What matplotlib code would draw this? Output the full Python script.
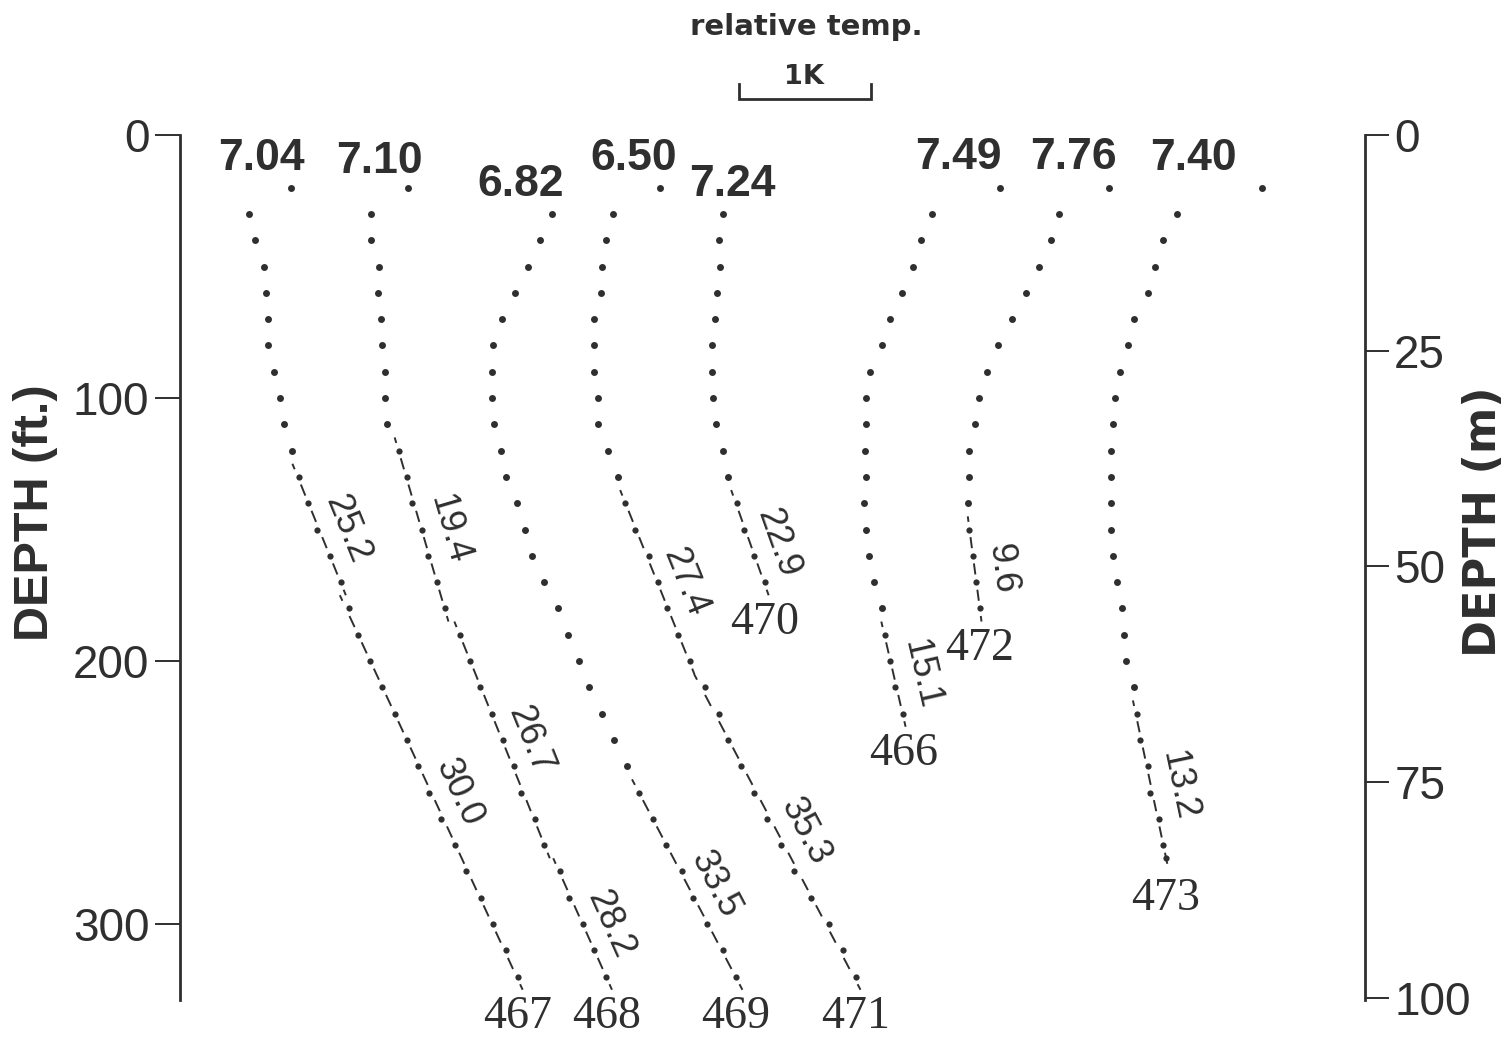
import numpy as np
import matplotlib
matplotlib.use("Agg")
import matplotlib.pyplot as plt
from matplotlib import font_manager
from matplotlib.transforms import blended_transform_factory

plt.rcParams['lines.scale_dashes'] = False

# ---------------- data ----------------
WELLS = ["467", "468", "469", "471", "470", "466", "472", "473"]
TOP_TEMPS = ["7.04", "7.10", "6.82", "6.50", "7.24", "7.49", "7.76", "7.40"]

# depth of readings (ft)
depth_467 = [20, 30, 40, 50, 60, 70, 80, 90, 100, 110, 120, 130, 140, 150, 160, 170,
             180, 190, 200, 210, 220, 230, 240, 250, 260, 270, 280, 290, 300, 310, 320]
depth_468 = [20, 30, 40, 50, 60, 70, 80, 90, 100, 110, 120, 130, 140, 150, 160, 170,
             180, 190, 200, 210, 220, 230, 240, 250, 260, 270, 280, 290, 300, 310, 320]
depth_469 = [30, 40, 50, 60, 70, 80, 90, 100, 110, 120, 130, 140, 150, 160, 170,
             180, 190, 200, 210, 220, 230, 240, 250, 260, 270, 280, 290, 300, 310, 320]
depth_471 = [20, 30, 40, 50, 60, 70, 80, 90, 100, 110, 120, 130, 140, 150, 160, 170,
             180, 190, 200, 210, 220, 230, 240, 250, 260, 270, 280, 290, 300, 310, 320]
depth_470 = [30, 40, 50, 60, 70, 80, 90, 100, 110, 120, 130, 140, 150, 160, 170]
depth_466 = [20, 30, 40, 50, 60, 70, 80, 90, 100, 110, 120, 130, 140, 150, 160, 170,
             180, 190, 200, 210, 220]
depth_472 = [20, 30, 40, 50, 60, 70, 80, 90, 100, 110, 120, 130, 140, 150, 160, 170, 180]
depth_473 = [20, 30, 40, 50, 60, 70, 80, 90, 100, 110, 120, 130, 140, 150, 160, 170,
             180, 190, 200, 210, 220, 230, 240, 250, 260, 270, 275]

# relative temperature (K, arbitrary offset per profile)
temp_467 = [0.84, 0.52, 0.57, 0.64, 0.65, 0.67, 0.67, 0.71, 0.76, 0.79, 0.85, 0.90, 0.97,
            1.04, 1.14, 1.22, 1.28, 1.35, 1.44, 1.53, 1.63, 1.72, 1.80, 1.89, 1.98, 2.08,
            2.17, 2.28, 2.37, 2.47, 2.56]
temp_468 = [1.73, 1.45, 1.45, 1.51, 1.50, 1.52, 1.53, 1.55, 1.55, 1.57, 1.66, 1.72, 1.76,
            1.83, 1.88, 1.95, 2.01, 2.12, 2.20, 2.27, 2.36, 2.45, 2.53, 2.58, 2.69, 2.76,
            2.88, 2.95, 3.05, 3.14, 3.23]
temp_469 = [2.82, 2.73, 2.64, 2.54, 2.44, 2.37, 2.36, 2.36, 2.38, 2.43, 2.47, 2.55, 2.61,
            2.67, 2.76, 2.86, 2.94, 3.02, 3.10, 3.20, 3.29, 3.39, 3.48, 3.58, 3.68, 3.80,
            3.89, 3.99, 4.11, 4.21]
temp_471 = [3.64, 3.28, 3.23, 3.20, 3.19, 3.14, 3.14, 3.14, 3.17, 3.17, 3.24, 3.32, 3.37,
            3.45, 3.55, 3.62, 3.69, 3.77, 3.86, 3.98, 4.08, 4.15, 4.25, 4.35, 4.45, 4.55,
            4.65, 4.78, 4.92, 5.02, 5.12]
temp_470 = [4.11, 4.08, 4.09, 4.07, 4.05, 4.03, 4.03, 4.04, 4.06, 4.11, 4.15, 4.22, 4.27,
            4.35, 4.43]
temp_466 = [6.21, 5.70, 5.61, 5.55, 5.47, 5.38, 5.32, 5.23, 5.20, 5.20, 5.19, 5.20, 5.18,
            5.20, 5.22, 5.26, 5.32, 5.34, 5.38, 5.42, 5.48]
temp_472 = [7.04, 6.66, 6.60, 6.51, 6.41, 6.30, 6.20, 6.11, 6.05, 6.02, 5.98, 5.98, 5.97,
            5.98, 6.01, 6.03, 6.06]
temp_473 = [8.20, 7.55, 7.45, 7.39, 7.33, 7.23, 7.18, 7.12, 7.08, 7.07, 7.05, 7.05, 7.05,
            7.05, 7.07, 7.10, 7.14, 7.15, 7.17, 7.23, 7.25, 7.27, 7.33, 7.35, 7.42, 7.45,
            7.47]

# linear-gradient intervals (ft) and gradients (mK/m)
seg_467 = [(130, 170), (180, 320)]
grad_467 = ["25.2", "30.0"]
seg_468 = [(120, 180), (190, 270), (280, 320)]
grad_468 = ["19.4", "26.7", "28.2"]
seg_469 = [(250, 320)]
grad_469 = ["33.5"]
seg_471 = [(140, 200), (210, 320)]
grad_471 = ["27.4", "35.3"]
seg_470 = [(140, 170)]
grad_470 = ["22.9"]
seg_466 = [(190, 220)]
grad_466 = ["15.1"]
seg_472 = [(150, 180)]
grad_472 = ["9.6"]
seg_473 = [(220, 275)]
grad_473 = ["13.2"]

LEFT_TICKS_FT = [0, 100, 200, 300]
RIGHT_TICKS_M = [0, 25, 50, 75, 100]

DEPTHS = [depth_467, depth_468, depth_469, depth_471, depth_470, depth_466, depth_472, depth_473]
TEMPS = [temp_467, temp_468, temp_469, temp_471, temp_470, temp_466, temp_472, temp_473]
SEGS = [seg_467, seg_468, seg_469, seg_471, seg_470, seg_466, seg_472, seg_473]
GRADS = [grad_467, grad_468, grad_469, grad_471, grad_470, grad_466, grad_472, grad_473]

# ---------------- layout / style ----------------
W, H, DPI = 1506, 1039, 100
INK = "#2f2f2f"
# offset (points) of the top temperature label from the shallowest reading
TOP_LABEL_OFFSETS = [(-21, 21), (-21, 19), (-23, 21), (-19, 21), (7, 21),
                     (-30, 21.5), (-26, 21.5), (-50, 21)]
SCALE_BAR_START_K = 4.235
X_MAX_K = (1365 - 180) / 132.0
Y_MAX_FT = 865 / 2.63
FT_PER_M = 3.2808

_installed = {f.name for f in font_manager.fontManager.ttflist}
if "Liberation Sans Narrow" in _installed:
    TOP_FONT, TOP_SIZE = "Liberation Sans Narrow", 35
else:
    TOP_FONT, TOP_SIZE = "Liberation Sans", 32

fig = plt.figure(figsize=(W / DPI, H / DPI), dpi=DPI)
ax = fig.add_axes([180 / W, (H - 1000) / H, (1365 - 180) / W, (1000 - 135) / H])
ax.set_xlim(0, X_MAX_K)
ax.set_ylim(Y_MAX_FT, 0)

for s in ["top", "bottom", "right"]:
    ax.spines[s].set_visible(False)
ax.spines["left"].set_linewidth(2.0)
ax.spines["left"].set_color(INK)
ax.set_xticks([])
ax.set_yticks(LEFT_TICKS_FT)
ax.set_yticklabels([str(t) for t in LEFT_TICKS_FT], fontfamily="Liberation Sans",
                   fontsize=33, color=INK)
ax.tick_params(axis="y", direction="out", length=18, width=1.4, color=INK, pad=4)

ax2 = ax.twinx()
ax2.set_ylim(Y_MAX_FT / FT_PER_M, 0)
for s in ["top", "bottom", "left"]:
    ax2.spines[s].set_visible(False)
ax2.spines["right"].set_linewidth(2.0)
ax2.spines["right"].set_color(INK)
ax2.set_yticks(RIGHT_TICKS_M)
ax2.set_yticklabels([str(t) for t in RIGHT_TICKS_M], fontfamily="Liberation Sans",
                    fontsize=33, color=INK)
ax2.tick_params(axis="y", direction="out", length=17, width=1.4, color=INK, pad=4)

pt_per_px = 72.0 / DPI

for well, top, dep, tmp, segs, grads, toff in zip(WELLS, TOP_TEMPS, DEPTHS, TEMPS, SEGS,
                                                   GRADS, TOP_LABEL_OFFSETS):
    dep = np.array(dep, dtype=float)
    tmp = np.array(tmp, dtype=float)
    in_seg = np.zeros(len(dep), dtype=bool)
    for (d0, d1), g in zip(segs, grads):
        m = (dep >= d0) & (dep <= d1)
        in_seg |= m
        coef = np.polyfit(dep[m], tmp[m], 1)
        dl = np.array([d0 - 5.0, d1 + 5.0])
        tl = np.polyval(coef, dl)
        p0 = ax.transData.transform((np.polyval(coef, d0), d0))
        p10 = ax.transData.transform((np.polyval(coef, d0 + 10), d0 + 10))
        period = np.hypot(*(p10 - p0)) * pt_per_px
        dash = 0.42 * period
        gap = period - dash
        ax.plot(tl, dl, color=INK, lw=1.4, linestyle=(dash / 2.0, (dash, gap)),
                dash_capstyle="butt", zorder=2)
        pa = ax.transData.transform((np.polyval(coef, d0), d0))
        pb = ax.transData.transform((np.polyval(coef, d1), d1))
        ang = np.degrees(np.arctan2(pb[1] - pa[1], pb[0] - pa[0]))
        dm = 0.5 * (d0 + d1)
        ax.annotate(g, (np.polyval(coef, dm), dm), xytext=(20, 0),
                    textcoords="offset points", rotation=ang, rotation_mode="anchor",
                    ha="center", va="center", fontsize=26,
                    fontfamily="Liberation Sans", color=INK, zorder=4)
    ax.plot(tmp[~in_seg], dep[~in_seg], linestyle="none", marker="o", ms=5.0,
            color=INK, markeredgewidth=0, zorder=3, clip_on=False)
    ax.plot(tmp[in_seg], dep[in_seg], linestyle="none", marker="o", ms=4.5,
            color=INK, markeredgewidth=0, zorder=3, clip_on=False)
    # temperature label at top
    ax.annotate(top, (tmp[0], dep[0]), xytext=toff, textcoords="offset points",
                ha="center", va="center", fontsize=TOP_SIZE, fontweight="bold",
                fontfamily=TOP_FONT, color=INK, annotation_clip=False)
    # well number below
    ax.annotate(well, (tmp[-1], dep[-1]), xytext=(0, -29), textcoords="offset points",
                ha="center", va="center", fontsize=33, fontfamily="Liberation Serif",
                color=INK, annotation_clip=False)

# axis titles
fig.text(36 / W, 1 - 513 / H, "DEPTH (ft.)", rotation=90, ha="center", va="center",
         fontsize=35, fontweight="bold", fontfamily="Liberation Sans", color=INK)
fig.text(1484 / W, 1 - 522 / H, "DEPTH (m)", rotation=90, ha="center", va="center",
         fontsize=32, fontweight="bold", fontfamily="DejaVu Sans", color=INK)

# relative temperature scale bar
fig.text(806 / W, 1 - 27 / H, "relative temp.", ha="center", va="center",
         fontsize=21, fontweight="bold", fontfamily="DejaVu Sans", color=INK)
fig.text(804 / W, 1 - 77 / H, "1K", ha="center", va="center",
         fontsize=19.5, fontweight="bold", fontfamily="DejaVu Sans", color=INK)
btr = blended_transform_factory(ax.transData, fig.transFigure)
xb = [SCALE_BAR_START_K, SCALE_BAR_START_K, SCALE_BAR_START_K + 1.0, SCALE_BAR_START_K + 1.0]
yb = [1 - 84 / H, 1 - 99 / H, 1 - 99 / H, 1 - 84 / H]
ax.plot(xb, yb, transform=btr, color=INK, lw=2.0, clip_on=False,
        solid_joinstyle="miter")

fig.savefig("out.png", dpi=DPI)
